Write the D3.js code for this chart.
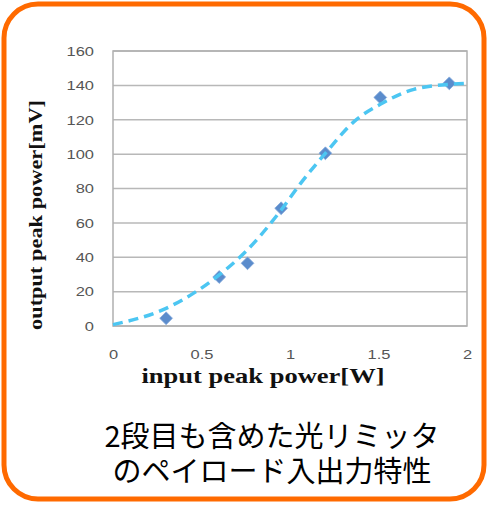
<!DOCTYPE html>
<html>
<head>
<meta charset="utf-8">
<script src="https://cdn.jsdelivr.net/npm/d3@7"></script>
<style>
  html, body { margin: 0; padding: 0; background: #fff; }
  svg { display: block; }
</style>
</head>
<body>
<svg id="chart" width="490" height="505"></svg>
<script>
// Measured limiter response: input peak power [W] vs output peak power [mV]
const inputPower  = [0.30, 0.60, 0.76, 0.95, 1.20, 1.51, 1.90];
const outputPower = [4.5, 28.5, 36.5, 68.5, 100.5, 133, 141.2];

// Fitted trend curve (sampled)
const fitInput  = [0, 0.30, 0.60, 0.74, 0.95, 1.06, 1.20, 1.36, 1.51, 1.70, 1.90, 2.0];
const fitOutput = [0.8, 10.3, 29.7, 42.3, 67.5, 83, 100.5, 118.8, 129, 137.7, 140.6, 141.2];

const xTicks = [0, 0.5, 1, 1.5, 2];
const yTicks = [0, 20, 40, 60, 80, 100, 120, 140, 160];

const captionLines = ["2段目も含めた光リミッタ", "のペイロード入出力特性"];

const svg = d3.select("#chart");

// Rounded orange frame
svg.append("rect")
  .attr("x", 4).attr("y", 4)
  .attr("width", 480).attr("height", 495)
  .attr("rx", 34).attr("ry", 34)
  .attr("fill", "#fff")
  .attr("stroke", "#ff6a00")
  .attr("stroke-width", 5);

const plot = { left: 113, right: 467, top: 51, bottom: 326 };

const x = d3.scaleLinear().domain([0, 2]).range([plot.left, plot.right]);
const y = d3.scaleLinear().domain([0, 160]).range([plot.bottom, plot.top]);

// Horizontal gridlines
svg.append("g")
  .selectAll("line")
  .data(yTicks)
  .join("line")
  .attr("x1", plot.left).attr("x2", plot.right)
  .attr("y1", d => y(d)).attr("y2", d => y(d))
  .attr("stroke", "#b8b8b8")
  .attr("stroke-width", 1.5);

// Plot frame
svg.append("rect")
  .attr("x", plot.left).attr("y", plot.top)
  .attr("width", plot.right - plot.left)
  .attr("height", plot.bottom - plot.top)
  .attr("fill", "none")
  .attr("stroke", "#b0b0b0")
  .attr("stroke-width", 1.5);

// Axes (labels only; lines come from the grid and frame)
const yAxis = svg.append("g")
  .attr("transform", `translate(${plot.left},0)`)
  .call(d3.axisLeft(y).tickValues(yTicks).tickSize(0).tickPadding(19).tickFormat(d3.format("d")));
const xAxis = svg.append("g")
  .attr("transform", `translate(0,${plot.bottom})`)
  .call(d3.axisBottom(x).tickValues(xTicks).tickSize(0).tickPadding(23).tickFormat(d => String(d)));

// Tick labels are set slightly wide, stretched about their anchor point
[yAxis, xAxis].forEach(g => {
  g.select(".domain").remove();
  g.selectAll("text")
    .attr("fill", "#555")
    .style("font-family", "'Liberation Sans', Arial, sans-serif")
    .style("font-size", "13.5px")
    .attr("transform", function () {
      const ax = +d3.select(this).attr("x") || 0;
      return `translate(${ax},0) scale(1.22,1) translate(${-ax},0)`;
    });
});

// Data markers (diamonds)
svg.append("g")
  .selectAll("path")
  .data(inputPower.map((v, i) => [v, outputPower[i]]))
  .join("path")
  .attr("transform", d => `translate(${x(d[0])},${y(d[1])})`)
  .attr("d", d3.symbol(d3.symbolDiamond2, 105))
  .attr("fill", "#5b8ccc")
  .attr("stroke", "#86abdc")
  .attr("stroke-width", 0.8);

// Dashed trend curve
const line = d3.line()
  .x(d => x(d[0]))
  .y(d => y(d[1]))
  .curve(d3.curveMonotoneX);

svg.append("path")
  .datum(fitInput.map((v, i) => [v, fitOutput[i]]))
  .attr("d", line)
  .attr("fill", "none")
  .attr("stroke", "#4cc6f2")
  .attr("stroke-width", 3.5)
  .attr("stroke-dasharray", "10,6");

// Axis titles
svg.append("text")
  .attr("x", 263).attr("y", 383)
  .attr("text-anchor", "middle")
  .attr("fill", "#111")
  .attr("textLength", 243)
  .attr("lengthAdjust", "spacingAndGlyphs")
  .style("font-family", "'Liberation Serif', 'Times New Roman', serif")
  .style("font-weight", "bold")
  .style("font-size", "21px")
  .text("input peak power[W]");

svg.append("text")
  .attr("transform", "translate(42,215) rotate(-90)")
  .attr("text-anchor", "middle")
  .attr("fill", "#111")
  .attr("textLength", 230)
  .attr("lengthAdjust", "spacingAndGlyphs")
  .style("font-family", "'Liberation Serif', 'Times New Roman', serif")
  .style("font-weight", "bold")
  .style("font-size", "19px")
  .text("output peak power[mV]");

// Caption
svg.append("g")
  .selectAll("text")
  .data(captionLines)
  .join("text")
  .attr("x", 272)
  .attr("y", (d, i) => 447 + i * 35)
  .attr("text-anchor", "middle")
  .attr("fill", "#000")
  .style("font-family", "'Noto Sans CJK JP', sans-serif")
  .style("font-size", "29px")
  .text(d => d);
</script>
</body>
</html>
